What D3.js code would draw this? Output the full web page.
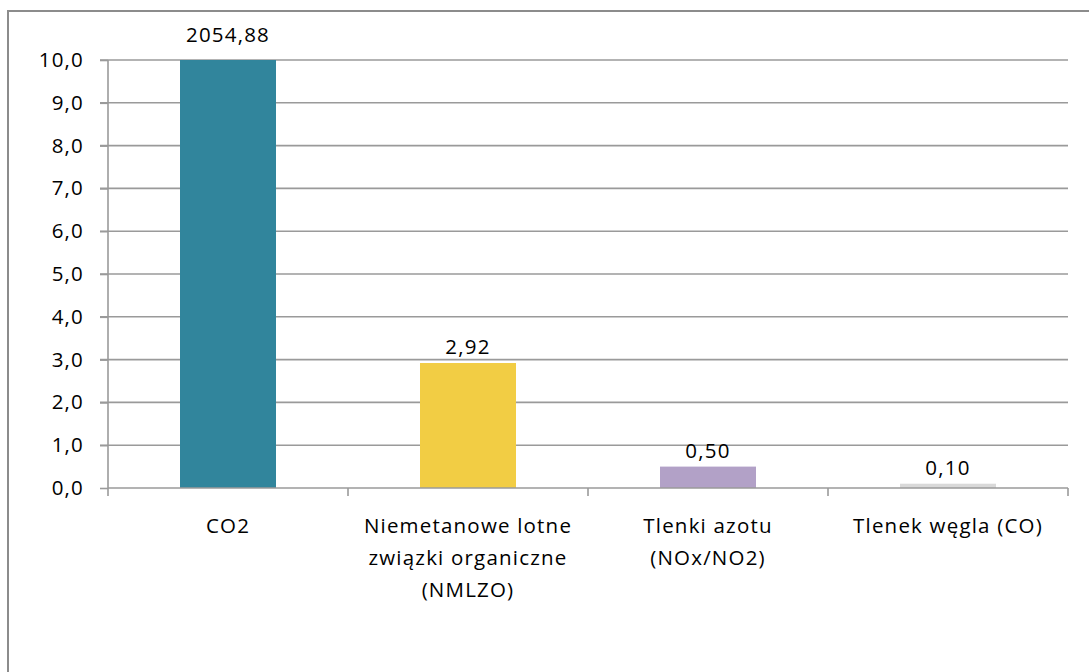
<!DOCTYPE html>
<html>
<head>
<meta charset="utf-8">
<script src="https://cdn.jsdelivr.net/npm/d3@7"></script>
<style>
html,body{margin:0;padding:0;background:#fff;}
svg{display:block;}
text{font-family:"Open Sans",sans-serif;fill:#000;}
</style>
</head>
<body>
<script>
const categories = ["CO2", "Niemetanowe lotne\nzwiązki organiczne\n(NMLZO)", "Tlenki azotu\n(NOx/NO2)", "Tlenek węgla (CO)"];
const values = [2054.88, 2.92, 0.50, 0.10];
const valueLabels = ["2054,88", "2,92", "0,50", "0,10"];
const colors = ["#31859C", "#F2CD44", "#B2A1C7", "#D9D9D9"];
const yTicks = [0, 1, 2, 3, 4, 5, 6, 7, 8, 9, 10];
const yMax = 10;

(function() {
const W = 1089, H = 672;
const FS = 20.5, LS = 1.2;
const svg = d3.select("body").append("svg").attr("width", W).attr("height", H);

// outer chart border (extends beyond viewport right/bottom)
svg.append("rect").attr("x", 8).attr("y", 11).attr("width", 1200).attr("height", 800)
  .attr("fill", "#fff").attr("stroke", "#8c8c8c").attr("stroke-width", 2);

const pLeft = 108, pRight = 1068, pTop = 60, pBottom = 488;
const x = d3.scaleBand().domain(categories).range([pLeft, pRight]).paddingInner(0.6).paddingOuter(0.3);
const y = d3.scaleLinear().domain([0, yMax]).range([pBottom, pTop]);

const fmt = v => v.toFixed(1).replace(".", ",");
const gridColor = "#9a9a9a";

// gridlines
svg.append("g").selectAll("line").data(yTicks.filter(t => t > 0)).join("line")
  .attr("x1", pLeft - 8).attr("x2", pRight).attr("y1", d => y(d)).attr("y2", d => y(d))
  .attr("stroke", gridColor).attr("stroke-width", 1.6);

// y axis
const yAxis = svg.append("g").attr("transform", `translate(${pLeft},0)`)
  .call(d3.axisLeft(y).tickValues(yTicks).tickFormat(fmt).tickSize(8).tickPadding(16));
yAxis.select(".domain").attr("stroke", gridColor).attr("stroke-width", 1.6).attr("d", `M0,${pTop}V${pBottom + 8}`);
yAxis.selectAll(".tick line").attr("stroke", gridColor).attr("stroke-width", 1.6);
yAxis.selectAll(".tick text").attr("font-size", FS).attr("letter-spacing", LS).attr("fill", "#000")
  .style("font-family", "'Open Sans',sans-serif");

// bars
svg.append("g").selectAll("rect").data(values).join("rect")
  .attr("x", (d, i) => x(categories[i]))
  .attr("width", x.bandwidth())
  .attr("y", d => y(Math.min(d, yMax)))
  .attr("height", d => pBottom - y(Math.min(d, yMax)))
  .attr("fill", (d, i) => colors[i]);

// x axis line
svg.append("line").attr("x1", pLeft).attr("x2", pRight).attr("y1", pBottom).attr("y2", pBottom)
  .attr("stroke", gridColor).attr("stroke-width", 1.6);
// category boundary ticks
const bounds = categories.map((c, i) => pLeft + x.step() * (i + 1));
svg.append("g").selectAll("line").data(bounds).join("line")
  .attr("x1", d => d).attr("x2", d => d).attr("y1", pBottom).attr("y2", pBottom + 8)
  .attr("stroke", gridColor).attr("stroke-width", 1.6);

// value labels
svg.append("g").selectAll("text").data(values).join("text")
  .attr("x", (d, i) => x(categories[i]) + x.bandwidth() / 2)
  .attr("y", d => d > yMax ? y(yMax) - 18 : y(d) - 9)
  .attr("text-anchor", "middle").attr("font-size", FS).attr("letter-spacing", LS)
  .text((d, i) => valueLabels[i]);

// category labels
const cl = svg.append("g").selectAll("text").data(categories).join("text")
  .attr("text-anchor", "middle").attr("font-size", FS).attr("letter-spacing", LS)
  .attr("x", d => x(d) + x.bandwidth() / 2).attr("y", 533);
cl.each(function(d) {
  const t = d3.select(this);
  d.split("\n").forEach((line, k) => {
    t.append("tspan").attr("x", x(d) + x.bandwidth() / 2).attr("dy", k === 0 ? 0 : 32).text(line);
  });
});
})();
</script>
</body>
</html>
